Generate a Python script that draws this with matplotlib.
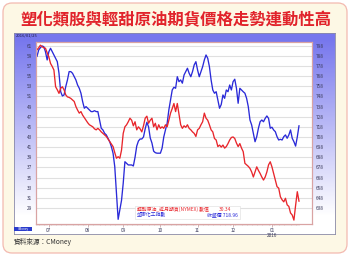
import numpy as np
import pandas as pd
import matplotlib
matplotlib.use("Agg")
import matplotlib.pyplot as plt
from matplotlib.patches import FancyBboxPatch, Rectangle
from matplotlib.transforms import IdentityTransform

plt.rcParams['font.family'] = ['Noto Sans CJK TC', 'DejaVu Sans']

# trading days, last one 2016/01/25
dates = pd.bdate_range(end="2016-01-25", periods=156)

# 輕甜原油 近月期貨 (USD), left axis
oil = [60.2, 60.6, 61.1, 60.8, 60.6, 60.5, 59.6, 58.8, 57.5, 56.9,
       56.2, 52.9, 52.3, 51.6, 52.6, 52.9, 52.3, 51.3, 50.9, 50.8,
       50.6, 50.3, 50.0, 49.0, 48.3, 47.7, 48.0, 47.3, 46.8, 46.3,
       45.8, 45.4, 45.2, 45.0, 44.6, 44.4, 44.7, 44.4, 44.0, 43.7,
       43.4, 43.1, 42.6, 42.1, 41.6, 41.1, 39.9, 38.8, 39.1, 38.8,
       40.4, 43.7, 45.0, 45.4, 46.0, 46.7, 46.3, 45.2, 46.0, 44.4,
       45.0, 44.6, 44.0, 45.2, 46.7, 47.1, 45.7, 46.3, 46.7, 45.0,
       45.7, 44.4, 45.4, 44.7, 45.0, 44.7, 45.4, 45.0, 46.3, 47.7,
       48.6, 49.6, 48.0, 49.6, 47.5, 45.4, 44.7, 45.2, 44.9, 45.4,
       44.7, 44.4, 44.0, 43.7, 43.1, 44.4, 44.7, 45.4, 46.0, 47.7,
       46.7, 46.3, 45.4, 44.4, 44.0, 42.7, 42.4, 41.1, 41.4, 41.0,
       41.4, 40.8, 41.1, 41.7, 42.4, 42.9, 43.0, 42.7, 41.8, 41.1,
       41.7, 40.8, 40.1, 37.8, 37.5, 37.2, 36.8, 36.1, 35.1, 36.1,
       37.1, 36.4, 35.8, 35.1, 34.5, 35.1, 36.1, 37.5, 38.1, 37.1,
       35.8, 34.5, 33.2, 32.9, 31.2, 30.6, 30.2, 30.9, 29.6, 29.3,
       28.0, 27.6, 26.6, 29.5, 32.2, 30.34]

# 塑膠化工指數 close, right axis
chem = [787.5, 793.8, 796.0, 797.7, 797.0, 792.0, 783.9, 792.0, 795.4, 792.0,
        788.8, 785.6, 782.2, 770.8, 752.6, 748.4, 749.4, 757.6, 764.2, 772.4,
        772.4, 770.8, 767.4, 764.2, 759.2, 756.0, 751.1, 742.8, 736.3, 737.9,
        736.3, 734.6, 733.0, 733.0, 733.9, 733.0, 733.0, 724.7, 716.6, 714.9,
        711.6, 710.0, 706.7, 703.3, 698.4, 691.9, 678.7, 652.0, 626.8, 636.0,
        645.5, 662.3, 683.6, 682.0, 680.4, 680.4, 680.4, 679.4, 688.0, 699.0,
        704.0, 706.0, 706.0, 708.0, 716.0, 722.5, 718.0, 707.0, 702.0, 694.0,
        692.5, 692.0, 692.0, 692.0, 697.0, 708.0, 715.0, 721.5, 734.6, 744.5,
        754.3, 757.0, 756.0, 767.4, 762.5, 764.2, 761.0, 769.1, 772.4, 775.7,
        770.8, 767.4, 772.4, 779.0, 782.2, 774.0, 767.4, 772.4, 777.3, 783.9,
        788.8, 785.6, 777.3, 764.2, 754.3, 751.1, 752.6, 744.5, 736.3, 740.0,
        749.4, 746.1, 754.3, 752.6, 759.2, 754.3, 762.5, 764.9, 756.0, 741.2,
        756.0, 754.3, 752.6, 751.1, 746.1, 737.9, 724.7, 719.8, 711.6, 703.3,
        708.3, 716.6, 723.0, 724.7, 723.0, 726.3, 728.7, 726.3, 716.6, 717.6,
        714.9, 713.2, 708.3, 705.0, 705.7, 705.0, 708.3, 710.0, 706.7, 710.0,
        714.9, 706.7, 703.3, 699.0, 708.0, 718.96]

left_ticks = list(range(29, 62, 2))
right_ticks = list(range(638, 799, 10))
months = ["2015-07", "2015-08", "2015-09", "2015-10", "2015-11", "2015-12", "2016-01"]
month_labels = ["07", "08", "09", "10", "11", "12", "01\n2016"]

title = "塑化類股與輕甜原油期貨價格走勢連動性高"
oil_name = "輕甜原油_近月期貨(NYMEX) 數值"
chem_name = "塑膠化工指數"
source = "資料來源：CMoney"

RED = "#e8262c"
BLUE = "#2a2ad8"

W, H = 350, 256
fig = plt.figure(figsize=(W / 100, H / 100), dpi=100)
fig.patch.set_facecolor("white")


def rect(l, t, r, b):
    return [l / W, 1 - b / H, (r - l) / W, (b - t) / H]


# cream rounded card (behind everything)
card = FancyBboxPatch((3, 3), W - 6, H - 6, boxstyle="round,pad=0,rounding_size=9",
                      transform=IdentityTransform(), fc="#fdf8e5", ec="#f3b9b0",
                      lw=0.9, zorder=-10)
fig.patches.append(card)

fig.text(0.503, 1 - 20.5 / H, title, fontsize=11.8, fontweight="bold",
         color="#e1232b", ha="center", va="center")

# chart panel with blue gradient
bg = fig.add_axes(rect(14, 33, 335, 234))
rows = 201
grad = np.ones((rows, 1, 3))
blue_top = np.array([0.47, 0.47, 0.93])
for i in range(rows):
    py = 33 + i
    if py < 40:
        grad[i, 0] = blue_top
    else:
        f = min(1.0, (py - 40) / 175)
        grad[i, 0] = blue_top * (1 - f) + np.array([1.0, 1.0, 1.0]) * f
bg.imshow(grad, extent=(0, 1, 0, 1), aspect="auto")
bg.set_xlim(0, 1)
bg.set_ylim(0, 1)
bg.set_xticks([])
bg.set_yticks([])
for s in bg.spines.values():
    s.set_color("#8a8aa8")
    s.set_linewidth(0.6)

fig.text(16 / W, 1 - 35.8 / H, dates[-1].strftime("%Y/%m/%d"), fontsize=3.0,
         color="#1a1a40", ha="left", va="center")

# main plot
ax = fig.add_axes(rect(36, 42, 312, 224))
ax2 = ax.twinx()
ax.set_zorder(3)
ax2.set_zorder(2)
ax.patch.set_visible(False)
ax2.patch.set_visible(True)
ax2.patch.set_facecolor("white")

x = np.arange(len(dates))
ax2.plot(x, chem, color=BLUE, lw=0.95)
ax.plot(x, oil, color=RED, lw=0.95)

ax.set_xlim(-0.6, 162.7)
ax.set_ylim(25.83, 61.73)
ax2.set_ylim(622.2, 801.6)

ax.set_yticks(left_ticks)
ax2.set_yticks(right_ticks)
ax2.grid(axis="y", color="#e0e0e0", lw=0.8)

month_pos = [int(np.searchsorted(dates, pd.Timestamp(m + "-01"))) for m in months]
ax.set_xticks(month_pos)
ax.set_xticklabels(month_labels, linespacing=0.9)
ax.set_xticks(x, minor=True)

ax.tick_params(axis="y", labelsize=3.4, length=0, pad=3, labelcolor="#3a3a5a")
ax2.tick_params(axis="y", labelsize=3.4, length=0, pad=2.5, labelcolor="#3a3a5a")
ax.tick_params(axis="x", which="major", labelsize=3.4, length=2.2, width=0.4,
               pad=0.8, color="#b08080", labelcolor="#3a3a5a")
ax.tick_params(axis="x", which="minor", length=1.3, width=0.3, color="#c09a9a")

for a in (ax, ax2):
    for s in a.spines.values():
        s.set_color("#d9a3a3")
        s.set_linewidth(0.8)

# value box
fig.patches.append(Rectangle((135 / W, 1 - 218.5 / H), 105 / W, 12.5 / H,
                             transform=fig.transFigure, fc="white", ec="#dcdcdc",
                             lw=0.4, zorder=10))
fig.text(137 / W, 1 - 209.7 / H, oil_name, fontsize=3.5, color=RED,
         ha="left", va="center", zorder=11)
fig.text(231 / W, 1 - 209.7 / H, f"{oil[-1]:.2f}", fontsize=3.5, color=RED,
         ha="right", va="center", zorder=11)
fig.text(137 / W, 1 - 214.8 / H, chem_name, fontsize=3.5, color=BLUE,
         ha="left", va="center", zorder=11)
fig.text(238 / W, 1 - 214.8 / H, f"收盤價 {chem[-1]:.2f}", fontsize=3.5, color=BLUE,
         ha="right", va="center", zorder=11)

# small logo tag
fig.patches.append(Rectangle((14.5 / W, 1 - 231 / H), 17 / W, 4.5 / H,
                             transform=fig.transFigure, fc="#2a3ccc", ec="none", zorder=10))
fig.text(23 / W, 1 - 228.8 / H, "CMoney", fontsize=2.2, color="white",
         ha="center", va="center", zorder=11)

fig.text(14 / W, 1 - 241.5 / H, source, fontsize=4.8, color="#333333",
         ha="left", va="center")

fig.savefig("out.png", dpi=100)
